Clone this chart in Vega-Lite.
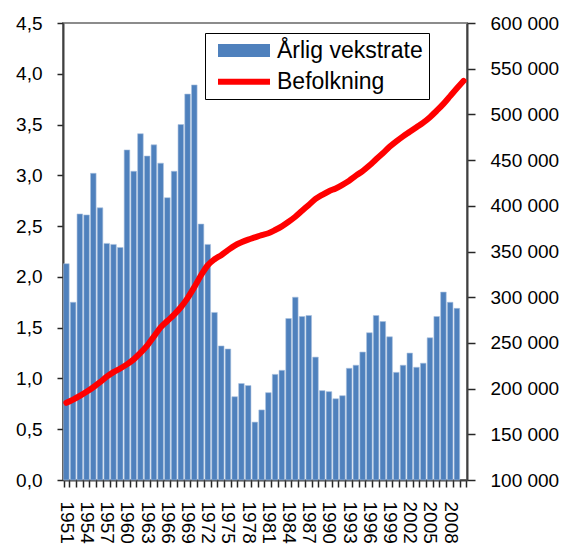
{
  "$schema": "https://vega.github.io/schema/vega-lite/v6.json",
  "autosize": {"type": "none"},
  "padding": {"left": 63, "top": 23, "right": 102, "bottom": 68},
  "width": 404,
  "height": 457,
  "background": "white",
  "config": {
    "locale": {"number": {"decimal": ",", "thousands": " ", "grouping": [3], "currency": ["", ""]}},
    "view": {"stroke": "#8c8c8c", "strokeWidth": 2},
    "axis": {"labelFont": "Liberation Sans", "labelFontSize": 19, "labelColor": "#000000", "domainColor": "#404040", "domainWidth": 2, "tickColor": "#262626", "tickWidth": 1.5, "grid": false}
  },
  "data": {"values": [
    {"year": 1951, "rate": 2.13, "pop": 184500},
    {"year": 1952, "rate": 1.75, "pop": 188000},
    {"year": 1953, "rate": 2.62, "pop": 192000},
    {"year": 1954, "rate": 2.61, "pop": 196500},
    {"year": 1955, "rate": 3.02, "pop": 201500},
    {"year": 1956, "rate": 2.68, "pop": 207000},
    {"year": 1957, "rate": 2.33, "pop": 213000},
    {"year": 1958, "rate": 2.32, "pop": 218000},
    {"year": 1959, "rate": 2.29, "pop": 222000},
    {"year": 1960, "rate": 3.25, "pop": 226500},
    {"year": 1961, "rate": 3.04, "pop": 232000},
    {"year": 1962, "rate": 3.41, "pop": 239000},
    {"year": 1963, "rate": 3.19, "pop": 247000},
    {"year": 1964, "rate": 3.30, "pop": 257000},
    {"year": 1965, "rate": 3.12, "pop": 267000},
    {"year": 1966, "rate": 2.78, "pop": 274000},
    {"year": 1967, "rate": 3.04, "pop": 281000},
    {"year": 1968, "rate": 3.50, "pop": 289000},
    {"year": 1969, "rate": 3.80, "pop": 299000},
    {"year": 1970, "rate": 3.89, "pop": 311000},
    {"year": 1971, "rate": 2.52, "pop": 324000},
    {"year": 1972, "rate": 2.32, "pop": 335000},
    {"year": 1973, "rate": 1.65, "pop": 341500},
    {"year": 1974, "rate": 1.32, "pop": 346000},
    {"year": 1975, "rate": 1.29, "pop": 351500},
    {"year": 1976, "rate": 0.82, "pop": 356500},
    {"year": 1977, "rate": 0.95, "pop": 360000},
    {"year": 1978, "rate": 0.93, "pop": 363000},
    {"year": 1979, "rate": 0.57, "pop": 365500},
    {"year": 1980, "rate": 0.69, "pop": 368000},
    {"year": 1981, "rate": 0.86, "pop": 370000},
    {"year": 1982, "rate": 1.04, "pop": 373500},
    {"year": 1983, "rate": 1.08, "pop": 377500},
    {"year": 1984, "rate": 1.59, "pop": 382500},
    {"year": 1985, "rate": 1.80, "pop": 388000},
    {"year": 1986, "rate": 1.61, "pop": 394500},
    {"year": 1987, "rate": 1.62, "pop": 401000},
    {"year": 1988, "rate": 1.21, "pop": 407500},
    {"year": 1989, "rate": 0.88, "pop": 412000},
    {"year": 1990, "rate": 0.87, "pop": 416000},
    {"year": 1991, "rate": 0.80, "pop": 419000},
    {"year": 1992, "rate": 0.83, "pop": 423000},
    {"year": 1993, "rate": 1.10, "pop": 427500},
    {"year": 1994, "rate": 1.13, "pop": 433000},
    {"year": 1995, "rate": 1.26, "pop": 438000},
    {"year": 1996, "rate": 1.45, "pop": 444000},
    {"year": 1997, "rate": 1.62, "pop": 451000},
    {"year": 1998, "rate": 1.56, "pop": 457500},
    {"year": 1999, "rate": 1.41, "pop": 464500},
    {"year": 2000, "rate": 1.06, "pop": 470500},
    {"year": 2001, "rate": 1.13, "pop": 476000},
    {"year": 2002, "rate": 1.25, "pop": 481000},
    {"year": 2003, "rate": 1.11, "pop": 486000},
    {"year": 2004, "rate": 1.15, "pop": 491000},
    {"year": 2005, "rate": 1.40, "pop": 497000},
    {"year": 2006, "rate": 1.61, "pop": 504000},
    {"year": 2007, "rate": 1.85, "pop": 511500},
    {"year": 2008, "rate": 1.75, "pop": 520000},
    {"year": 2009, "rate": 1.69, "pop": 528500},
    {"year": 2010, "pop": 536700}
  ]},
  "encoding": {
    "x": {
      "field": "year", "type": "ordinal", "title": null,
      "scale": {"paddingInner": 0.17, "paddingOuter": 0.085},
      "axis": {
        "labelAngle": 90, "labelAlign": "left", "labelBaseline": "middle",
        "labelPadding": 14, "labelOverlap": false, "tickBand": "extent", "tickSize": 7,
        "labelExpr": "(datum.value - 1951) % 3 === 0 ? datum.label : ''"
      }
    }
  },
  "layer": [
    {
      "mark": {"type": "bar", "stroke": "#a9c1df", "strokeWidth": 0.6},
      "encoding": {
        "y": {
          "field": "rate", "type": "quantitative", "title": null,
          "scale": {"domain": [0, 4.5], "nice": false, "zero": true},
          "axis": {"orient": "left", "values": [0, 0.5, 1, 1.5, 2, 2.5, 3, 3.5, 4, 4.5], "format": ".1f", "tickSize": 6, "labelPadding": 15}
        },
        "fill": {
          "datum": "Årlig vekstrate", "type": "nominal",
          "scale": {"domain": ["Årlig vekstrate"], "range": ["#4F81BD"]},
          "legend": {
            "title": " ", "titleOrient": "bottom", "titleFontSize": 20, "titlePadding": 10, "titleAnchor": "start",
            "orient": "none", "legendX": 142, "legendY": 10, "direction": "vertical",
            "strokeColor": "#000000", "fillColor": "#ffffff", "padding": 6,
            "labelFont": "Liberation Sans", "labelFontSize": 23, "labelColor": "#000000",
            "symbolOffset": 21.5, "labelOffset": 21.5,
            "symbolSize": 16, "symbolStrokeWidth": 0, "symbolFillColor": "#4F81BD",
            "symbolType": "M-13,-3.25H13V3.25H-13Z"
          }
        }
      }
    },
    {
      "mark": {"type": "line", "strokeWidth": 6, "strokeCap": "round", "strokeJoin": "round", "interpolate": "monotone"},
      "encoding": {
        "y": {
          "field": "pop", "type": "quantitative", "title": null,
          "scale": {"domain": [100000, 600000], "nice": false, "zero": false},
          "axis": {"orient": "right", "values": [100000, 150000, 200000, 250000, 300000, 350000, 400000, 450000, 500000, 550000, 600000], "format": ",d", "tickSize": 8, "labelPadding": 15}
        },
        "stroke": {
          "datum": "Befolkning", "type": "nominal",
          "scale": {"domain": ["Befolkning"], "range": ["#FF0000"]},
          "legend": {
            "title": null,
            "orient": "none", "legendX": 142, "legendY": 41.2, "direction": "vertical",
            "padding": 6,
            "labelFont": "Liberation Sans", "labelFontSize": 23, "labelColor": "#000000",
            "symbolOffset": 21.5, "labelOffset": 21.5,
            "symbolSize": 16, "symbolStrokeWidth": 6, "symbolStrokeColor": "#FF0000",
            "symbolType": "M-13,0H13"
          }
        }
      }
    }
  ],
  "resolve": {"scale": {"y": "independent"}}
}
